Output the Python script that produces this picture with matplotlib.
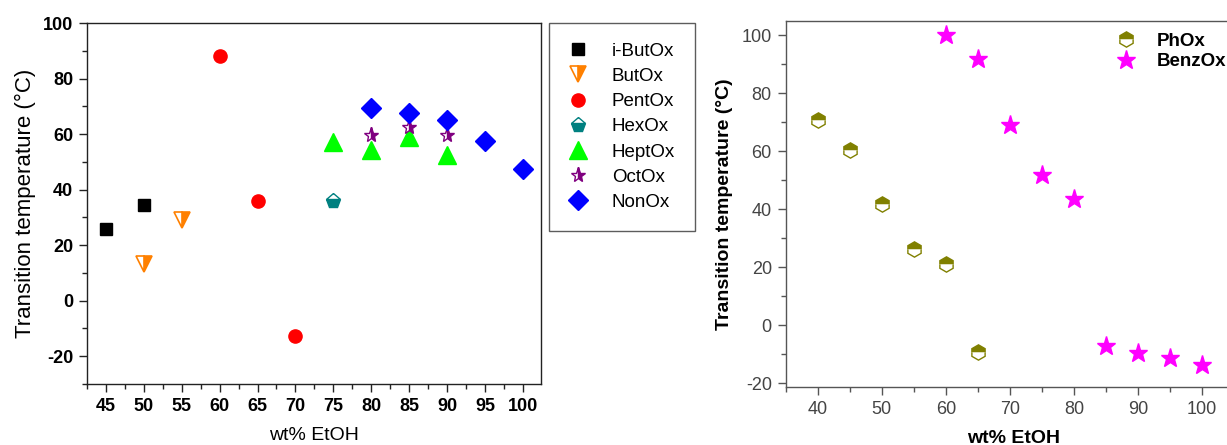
import matplotlib
matplotlib.use("Agg")
import matplotlib.pyplot as plt
from matplotlib.ticker import MultipleLocator

plt.rcParams['font.family'] = ['Liberation Sans', 'DejaVu Sans']
plt.rcParams['axes.unicode_minus'] = False

# ---- Left panel data ----
ibut_x = [45, 50]
ibut_y = [25.7, 34.3]
but_x = [50, 55]
but_y = [13.3, 28.9]
pent_x = [60, 65, 70]
pent_y = [88.2, 36.0, -12.7]
hex_x = [75]
hex_y = [35.8]
hept_x = [75, 80, 85, 90]
hept_y = [57.1, 54.2, 59.0, 52.4]
oct_x = [80, 85, 90]
oct_y = [59.8, 62.4, 59.6]
non_x = [80, 85, 90, 95, 100]
non_y = [69.3, 67.6, 65.2, 57.5, 47.5]

left_xticks = [45, 50, 55, 60, 65, 70, 75, 80, 85, 90, 95, 100]
left_yticks = [-20, 0, 20, 40, 60, 80, 100]

# ---- Right panel data ----
ph_x = [40, 45, 50, 55, 60, 65]
ph_y = [70.9, 60.6, 41.8, 26.2, 21.1, -9.3]
benz_x = [60, 65, 70, 75, 80, 85, 90, 95, 100]
benz_y = [100.0, 91.9, 69.0, 51.8, 43.5, -7.1, -9.4, -11.4, -13.7]

right_xticks = [40, 50, 60, 70, 80, 90, 100]
right_yticks = [-20, 0, 20, 40, 60, 80, 100]

W, H = 1227, 445
fig = plt.figure(figsize=(W / 100, H / 100), dpi=100)

def frac(x0, y0, x1, y1):
    return [x0 / W, 1 - y1 / H, (x1 - x0) / W, (y1 - y0) / H]

# ================= Left axes =================
ax1 = fig.add_axes(frac(87, 23, 541, 384))
series = [
    (ibut_x, ibut_y, 'i-ButOx', dict(marker='s', color='black', ms=8.5)),
    (but_x, but_y, 'ButOx', dict(marker='v', color='#FF8000', mec='#FF8000', fillstyle='right',
                                  markerfacecoloralt='white', ms=11, mew=1.2)),
    (pent_x, pent_y, 'PentOx', dict(marker='o', color='#FF0000', ms=9.5)),
    (hex_x, hex_y, 'HexOx', dict(marker='p', color='#008080', mec='#008080', fillstyle='bottom',
                                 markerfacecoloralt='white', ms=11, mew=1.0)),
    (hept_x, hept_y, 'HeptOx', dict(marker='^', color='#00FF00', ms=13)),
    (oct_x, oct_y, 'OctOx', dict(marker='*', color='#800080', mec='#800080', fillstyle='right',
                                 markerfacecoloralt='white', ms=11, mew=1.0)),
    (non_x, non_y, 'NonOx', dict(marker='D', color='#0000FF', ms=10)),
]
handles = []
for xs, ys, lab, kw in series:
    h, = ax1.plot(xs, ys, linestyle='none', label=lab, **kw)
    handles.append(h)

ax1.set_xlim(42.5, 102.4)
ax1.set_ylim(-30, 100)
ax1.set_xticks(left_xticks)
ax1.set_yticks(left_yticks)
ax1.xaxis.set_minor_locator(MultipleLocator(2.5))
ax1.yaxis.set_minor_locator(MultipleLocator(10))
ax1.tick_params(which='both', direction='out', top=False, right=False, color='#222222')
ax1.tick_params(which='major', length=6, width=1, labelsize=13, pad=4)
ax1.tick_params(which='minor', length=3.5, width=1)
for lbl in ax1.get_xticklabels() + ax1.get_yticklabels():
    lbl.set_fontweight('bold')
for sp in ax1.spines.values():
    sp.set_color('#222222')
    sp.set_linewidth(1.0)
ax1.set_xlabel('wt% EtOH', fontsize=14, labelpad=9)
ax1.set_ylabel('Transition temperature (°C)', fontsize=16, labelpad=5)

leg = fig.legend(handles=handles, loc='upper left', bbox_to_anchor=(549 / W, 1 - 23 / H),
                 borderaxespad=0, frameon=True, fancybox=False, fontsize=13.5,
                 labelspacing=0.43, handletextpad=1.3, borderpad=1.05, handlelength=1.0)
leg.get_frame().set_edgecolor('#333333')
leg.get_frame().set_linewidth(1.0)

# ================= Right axes =================
ax2 = fig.add_axes(frac(785.7, 21, 1240.6, 386.7))
h1, = ax2.plot(ph_x, ph_y, linestyle='none', marker='h', color='#808000', mec='#808000',
               fillstyle='top', markerfacecoloralt='white', ms=11, mew=1.0, label='PhOx')
h2, = ax2.plot(benz_x, benz_y, linestyle='none', marker='*', color='#FF00FF', ms=14,
               label='BenzOx')
ax2.set_xlim(35, 106)
ax2.set_ylim(-21.2, 105)
ax2.set_xticks(right_xticks)
ax2.set_yticks(right_yticks)
ax2.xaxis.set_minor_locator(MultipleLocator(5))
ax2.yaxis.set_minor_locator(MultipleLocator(10))
ax2.tick_params(which='both', direction='out', top=False, right=False, color='#555555',
                labelcolor='#444444')
ax2.tick_params(which='major', length=6, width=1, labelsize=13, pad=4)
ax2.tick_params(which='minor', length=3.5, width=1)
for sp in ax2.spines.values():
    sp.set_color('#555555')
    sp.set_linewidth(1.0)
ax2.set_xlabel('wt% EtOH', fontsize=14, fontweight='bold', labelpad=9)
ax2.set_ylabel('Transition temperature (°C)', fontsize=14, fontweight='bold', labelpad=6)
ax2w = 1240.6 - 785.7
leg2 = ax2.legend(handles=[h1, h2], loc='upper left',
                  bbox_to_anchor=((1104 - 785.7) / ax2w, 1 - 4 / 365.7),
                  frameon=False, fontsize=13.5, labelspacing=0.2, handletextpad=0.9,
                  borderaxespad=0, handlelength=1.5)
for t in leg2.get_texts():
    t.set_fontweight('bold')

fig.savefig('out.png', dpi=100)
